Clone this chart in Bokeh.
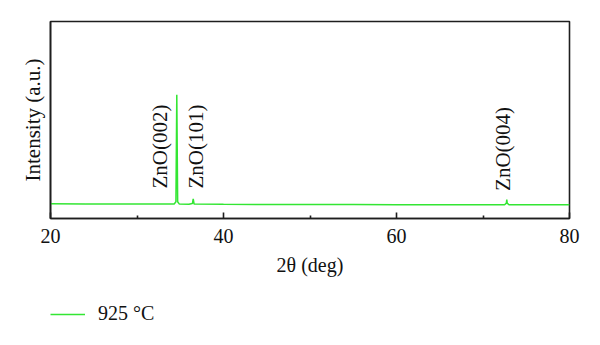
from bokeh.plotting import figure
from bokeh.layouts import column
from bokeh.models import Legend, LegendItem, FixedTicker, ColumnDataSource, Range1d
from bokeh.core.properties import value
from bokeh.embed import file_html
from bokeh.resources import INLINE
import math

# XRD pattern (2theta in deg, intensity in a.u.)
two_theta = [20.0, 24.0, 28.0, 31.0, 33.5, 34.3, 34.5, 34.6, 34.7, 34.9, 36.0, 36.4, 36.5, 36.6,
             40.0, 45.0, 50.0, 55.0, 60.0, 65.0, 70.0, 72.5, 72.7, 72.75, 72.8, 73.0, 76.0, 80.0]
intensity = [7.5, 7.4, 7.4, 7.4, 7.3, 7.4, 8.5, 62.8, 8.5, 7.3, 7.2, 7.6, 10.0, 7.3,
             7.2, 7.1, 7.1, 7.1, 7.0, 7.0, 7.0, 7.0, 7.8, 9.6, 7.8, 7.0, 6.95, 6.95]

peak_labels = ["ZnO(002)", "ZnO(101)", "ZnO(004)"]
label_x = [32.7, 36.8, 72.3]
label_y = [15.2, 15.2, 14.0]

x_major_ticks = [20, 40, 60, 80]
x_minor_ticks = [30, 50, 70]
series_name = "925 °C"

FONT = "Liberation Serif"
GREEN = "#33e633"
DARK = "#1e1e1e"
TEXT = "#111111"

p = figure(width=598, height=285, x_range=(20, 80), y_range=(0, 100),
           output_backend="svg", toolbar_location=None,
           min_border_left=50, min_border_right=29, min_border_top=21,
           min_border_bottom=67)

r = p.line(two_theta, intensity, line_color=GREEN, line_width=1.5)

src = ColumnDataSource(dict(x=label_x, y=label_y, t=peak_labels))
p.text(x="x", y="y", text="t", source=src, angle=math.pi / 2,
       text_align="left", text_baseline="alphabetic",
       text_font=value(FONT), text_font_size="21px", text_color=TEXT)

p.grid.visible = False
p.outline_line_color = DARK
p.outline_line_width = 1.6

xa = p.xaxis[0]
xa.ticker = FixedTicker(ticks=x_major_ticks, minor_ticks=x_minor_ticks)
xa.major_tick_in = 6
xa.major_tick_out = 0
xa.minor_tick_in = 3
xa.minor_tick_out = 0
xa.axis_line_color = DARK
xa.axis_line_width = 1.6
xa.major_tick_line_color = DARK
xa.major_tick_line_width = 1.6
xa.minor_tick_line_color = DARK
xa.minor_tick_line_width = 1.6
xa.major_label_text_font = FONT
xa.major_label_text_font_size = "20px"
xa.major_label_text_color = TEXT
xa.major_label_standoff = 10
xa.axis_label = "2θ (deg)"
xa.axis_label_text_font = FONT
xa.axis_label_text_font_style = "normal"
xa.axis_label_text_font_size = "20px"
xa.axis_label_text_color = TEXT
xa.axis_label_standoff = 8

ya = p.yaxis[0]
ya.ticker = FixedTicker(ticks=[])
ya.major_tick_line_color = None
ya.minor_tick_line_color = None
ya.axis_line_color = DARK
ya.axis_line_width = 1.6
ya.axis_label = "Intensity (a.u.)"
ya.axis_label_text_font = FONT
ya.axis_label_text_font_style = "normal"
ya.axis_label_text_font_size = "21px"
ya.axis_label_text_color = TEXT
ya.axis_label_standoff = 6

# legend strip below the chart
p2 = figure(width=598, height=56, x_range=Range1d(0, 1), y_range=Range1d(0, 1),
            output_backend="svg", toolbar_location=None,
            min_border_left=0, min_border_right=0, min_border_top=0,
            min_border_bottom=0)
p2.axis.visible = False
p2.grid.visible = False
p2.outline_line_color = None
r2 = p2.line(two_theta, intensity, line_color=GREEN, line_width=1.5)

legend = Legend(items=[LegendItem(label=series_name, renderers=[r2])],
                location=(0, 16), orientation="horizontal",
                border_line_color=None, background_fill_alpha=0,
                label_text_font=FONT, label_text_font_size="20px",
                label_text_color=TEXT,
                glyph_width=35, label_standoff=13, margin=0, padding=0,
                spacing=0)
p2.add_layout(legend)

layout = column(p, p2, spacing=0)
open("out.html", "w").write(file_html(layout, INLINE))
